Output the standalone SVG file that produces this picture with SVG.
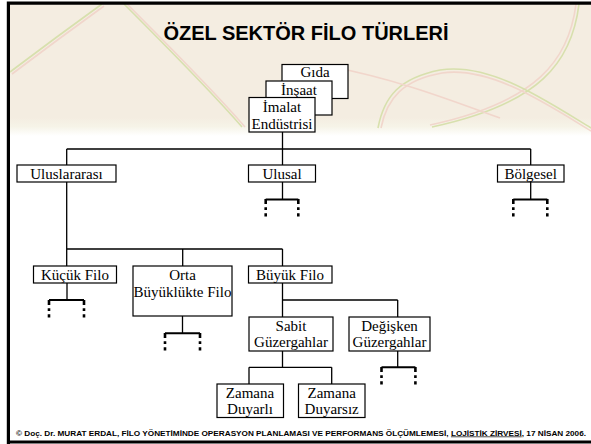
<svg xmlns="http://www.w3.org/2000/svg" width="591" height="444" viewBox="0 0 591 444">
<defs>
<linearGradient id="hdr" x1="0" y1="0" x2="0" y2="1">
<stop offset="0" stop-color="#F4EDE1"/>
<stop offset="0.86" stop-color="#F4EDE1"/>
<stop offset="0.93" stop-color="#F6F4E8"/>
<stop offset="1" stop-color="#FFFFFF"/>
</linearGradient>
<style>
.box{fill:#fff;stroke:#000;stroke-width:1.2}
.lbl{font-family:"Liberation Serif","Times New Roman",serif;font-size:15px;fill:#000;text-anchor:middle}
.con{stroke:#000;stroke-width:1.3;fill:none}
.stub{stroke:#000;stroke-width:2;fill:none}
.tick{stroke:#000;stroke-width:2.6;fill:none;stroke-dasharray:5 3.3 2.7 3.3 3.3}
.deco{fill:none;stroke:#D3DEA4;stroke-width:1.6}
.deco2{fill:none;stroke:#F1D2C8;stroke-width:1.6}
</style>
</defs>
<rect x="0" y="0" width="591" height="444" fill="#fff"/>
<rect x="10" y="4" width="581" height="132" fill="url(#hdr)"/>
<g opacity="0.85">
<path class="deco" d="M10 72 Q 55 38 102 4"/>
<path class="deco2" d="M12 74 Q 57 40 104 6"/>
<path class="deco" d="M124 4 C 165 45 210 90 242 127"/>
<path class="deco2" d="M127 4 C 168 45 213 90 245 127"/>
<path class="deco" d="M579 4 C 572 62 540 104 432 127"/>
<path class="deco2" d="M576 4 C 569 60 537 102 430 125"/>
<path class="deco" d="M378 128 C 384 96 400 78 440 70 C 490 62 545 100 591 128"/>
<path class="deco2" d="M381 128 C 387 98 403 80 442 73 C 490 66 545 103 591 131"/>
<path class="deco2" d="M328 66 C 400 80 450 100 500 118"/>
</g>
<path d="M8.4 444 V3.2 H593" fill="none" stroke="#000" stroke-width="3.2"/>
<line x1="7" y1="442" x2="591" y2="442" stroke="#000" stroke-width="2.8"/>
<text x="306" y="40" font-family="'Liberation Sans',Arial,sans-serif" font-weight="bold" font-size="20" text-anchor="middle">ÖZEL SEKTÖR FİLO TÜRLERİ</text>
<g id="connectors">
<path class="con" d="M282.5 132 V149 M66.7 149 H530.7 M66.7 149 V165 M282.5 149 V165 M530.7 149 V165"/>
<path class="con" d="M66.7 182 V249 H282.5 M66.7 249 V266 M182.7 249 V266 M282.5 249 V266"/>
<path class="con" d="M282.5 182 V199.5 M530.7 182 V199.5"/>
<path class="stub" d="M265.7 199.5 H298.3 M513.3 199.5 H547.3"/>
<path class="tick" d="M265.7 199 V217 M298.3 199 V217 M513.3 199 V217 M547.3 199 V217"/>
<path class="con" d="M67 283 V300 M182.5 316 V333.3"/>
<path class="stub" d="M49 300 H84 M165 333.3 H200"/>
<path class="tick" d="M49 300 V318 M84 300 V318 M165 333 V351 M200 333 V351"/>
<path class="con" d="M282.5 283 V300 H397.7 M282.5 300 V317 M397.7 300 V317"/>
<path class="con" d="M282.5 351 V367.3 M249 367.3 H331.7 M249 367.3 V384 M331.7 367.3 V384"/>
<path class="con" d="M397.7 351 V367.3"/>
<path class="stub" d="M381.5 367.3 H415.4"/>
<path class="tick" d="M381.5 367 V385 M415.4 367 V385"/>
</g>
<g id="gida"><rect class="box" x="282" y="64.5" width="66" height="34"/><text class="lbl" x="315" y="77">Gıda</text></g>
<g id="insaat"><rect class="box" x="266" y="81" width="66" height="34"/><text class="lbl" x="299" y="94.5">İnşaat</text></g>
<g id="imalat"><rect class="box" x="249" y="97.5" width="66" height="34.5"/><text class="lbl" x="282" y="111.5">İmalat</text><text class="lbl" x="282" y="128.5">Endüstrisi</text></g>
<g id="uluslararasi"><rect class="box" x="17" y="165" width="99" height="17"/><text class="lbl" x="66.5" y="179">Uluslararası</text></g>
<g id="ulusal"><rect class="box" x="248.5" y="165" width="67" height="17"/><text class="lbl" x="282" y="179">Ulusal</text></g>
<g id="bolgesel"><rect class="box" x="497.5" y="165" width="66.5" height="17"/><text class="lbl" x="530.7" y="179">Bölgesel</text></g>
<g id="kucuk"><rect class="box" x="33.5" y="266" width="83" height="17"/><text class="lbl" x="75" y="280">Küçük Filo</text></g>
<g id="orta"><rect class="box" x="133" y="266" width="99" height="50"/><text class="lbl" x="182.5" y="280">Orta</text><text class="lbl" x="182.5" y="297">Büyüklükte Filo</text></g>
<g id="buyuk"><rect class="box" x="248.5" y="266" width="83.5" height="17"/><text class="lbl" x="290" y="280">Büyük Filo</text></g>
<g id="sabit"><rect class="box" x="249" y="317" width="84" height="34"/><text class="lbl" x="291" y="330.5">Sabit</text><text class="lbl" x="291" y="347">Güzergahlar</text></g>
<g id="degisken"><rect class="box" x="349" y="317" width="81" height="34"/><text class="lbl" x="389.5" y="330.5">Değişken</text><text class="lbl" x="389.5" y="347">Güzergahlar</text></g>
<g id="duyarli"><rect class="box" x="217" y="384" width="66.5" height="33.5"/><text class="lbl" x="250" y="398">Zamana</text><text class="lbl" x="250" y="414">Duyarlı</text></g>
<g id="duyarsiz"><rect class="box" x="298.5" y="384" width="66.5" height="33.5"/><text class="lbl" x="331.7" y="398">Zamana</text><text class="lbl" x="331.7" y="414">Duyarsız</text></g>
<text x="16" y="435.5" font-family="'Liberation Sans',Arial,sans-serif" font-weight="bold" font-size="7" textLength="570" lengthAdjust="spacingAndGlyphs">© Doç. Dr. MURAT ERDAL, FİLO YÖNETİMİNDE OPERASYON PLANLAMASI VE PERFORMANS ÖLÇÜMLEMESİ, <tspan text-decoration="underline">LOJİSTİK ZİRVESİ</tspan>, 17 NİSAN 2006.</text>
</svg>
